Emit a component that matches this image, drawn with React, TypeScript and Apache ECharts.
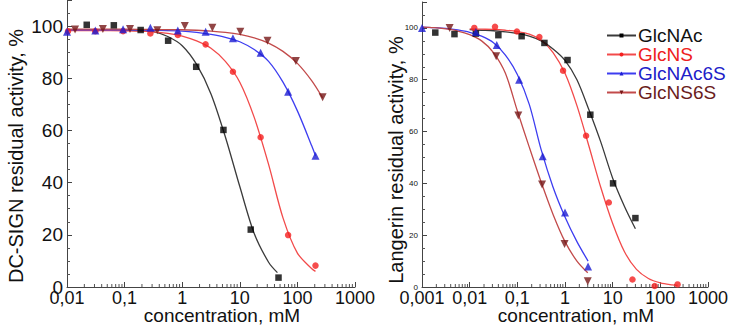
import React, { useEffect, useRef } from "react";
import * as echarts from "echarts";

// ---------- data ----------
const compounds = ["GlcNAc", "GlcNS", "GlcNAc6S", "GlcNS6S"];

// DC-SIGN panel: measured points
const dcBlackX = [0.022, 0.065, 0.19, 0.57, 1.75, 5.2, 15.5, 47];
const dcBlackY = [100.5, 100.3, 98.5, 94.4, 84.4, 60.2, 22, 3.6];
const dcRedX = [0.0104, 0.031, 0.094, 0.28, 0.84, 2.55, 7.6, 23, 69, 206];
const dcRedY = [98, 98, 98, 97.2, 96.6, 93, 82.5, 57.4, 19.9, 8.2];
const dcBlueX = [0.01, 0.031, 0.094, 0.28, 0.84, 2.55, 7.6, 23, 69, 206];
const dcBlueY = [97.8, 98.3, 98.8, 99.4, 98.3, 97.8, 95.3, 89.8, 74.8, 50.3];
const dcDarkX = [0.0138, 0.042, 0.124, 0.37, 1.11, 3.34, 10.2, 30.3, 94, 274];
const dcDarkY = [98.7, 98.9, 98.9, 98.4, 100, 99.4, 97.8, 94.4, 86.6, 72.7];

// DC-SIGN panel: fitted curves
const dcBlackCurveX = [0.01, 0.0178, 0.0316, 0.0562, 0.1, 0.178, 0.316, 0.562, 1, 1.78, 3.16, 5.62, 10, 17.8, 31.6, 45];
const dcBlackCurveY = [98.5, 98.5, 98.5, 98.5, 98.4, 98.3, 97.9, 96, 92.5, 85.3, 74, 57.5, 38.5, 20.5, 9.5, 5.5];
const dcRedCurveX = [0.01, 0.0316, 0.1, 0.178, 0.316, 0.562, 1, 1.78, 3.16, 5.62, 10, 17.8, 31.6, 56.2, 100, 178, 206];
const dcRedCurveY = [98.3, 98.3, 98.2, 98.1, 97.8, 97.2, 96.2, 94.3, 91.5, 86.5, 78.5, 65, 47, 26.5, 13, 7, 6];
const dcBlueCurveX = [0.01, 0.0316, 0.1, 0.316, 1, 1.78, 3.16, 5.62, 10, 17.8, 31.6, 56.2, 100, 178, 206];
const dcBlueCurveY = [98.6, 98.6, 98.6, 98.4, 98.1, 97.6, 96.8, 95.7, 94, 91, 86.5, 78.5, 67.5, 54, 50.3];
const dcDarkCurveX = [0.01, 0.0316, 0.1, 0.316, 1, 1.78, 3.16, 5.62, 10, 17.8, 31.6, 56.2, 100, 178, 274];
const dcDarkCurveY = [98.8, 98.8, 98.8, 98.7, 98.6, 98.4, 98.1, 97.6, 96.8, 95.5, 93.5, 90.3, 85.7, 79, 72.5];

// Langerin panel: measured points
const lgBlackX = [0.0019, 0.0048, 0.0135, 0.04, 0.123, 0.37, 1.13, 3.4, 10.2, 30];
const lgBlackY = [98.2, 97.6, 97.8, 97.2, 96.8, 94.2, 87.6, 66.5, 40, 26.6];
const lgRedX = [0.0125, 0.034, 0.098, 0.29, 0.91, 2.77, 8.3, 26, 76, 230];
const lgRedY = [100, 100.4, 98.6, 96.5, 83.5, 58.4, 32.6, 2.9, 0.4, 1];
const lgBlueX = [0.001, 0.0135, 0.037, 0.109, 0.34, 1.0, 3.05];
const lgBlueY = [100, 98.4, 93.4, 80, 50.5, 28.8, 7.9];
const lgDarkX = [0.0038, 0.036, 0.105, 0.33, 0.98, 3.0];
const lgDarkY = [100, 89.1, 66.2, 39.6, 16.6, 2.2];

// Langerin panel: fitted curves
const lgBlackCurveX = [0.01, 0.0178, 0.0316, 0.0562, 0.1, 0.178, 0.316, 0.562, 1, 1.78, 3.16, 5.62, 10, 17.8, 30];
const lgBlackCurveY = [99.3, 99.1, 98.9, 98.5, 97.9, 96.8, 95, 91.9, 87.5, 80, 68.5, 56, 42, 31, 22.5];
const lgRedCurveX = [0.01, 0.0178, 0.0316, 0.0562, 0.1, 0.178, 0.316, 0.562, 1, 1.78, 3.16, 5.62, 10, 17.8, 31.6, 56.2, 100, 178, 230];
const lgRedCurveY = [99.6, 99.5, 99.4, 99.1, 98.6, 97.6, 95.3, 90.5, 82.5, 70, 54.5, 38.5, 24.5, 13.5, 6.8, 3.3, 1.6, 0.8, 0.6];
const lgBlueCurveX = [0.001, 0.00178, 0.00316, 0.00562, 0.01, 0.0178, 0.0316, 0.0562, 0.1, 0.178, 0.316, 0.562, 1, 1.78, 3.05];
const lgBlueCurveY = [100.3, 100.1, 99.8, 99.2, 98.3, 96.8, 94.3, 89.5, 82, 70.5, 53, 38.5, 27, 17.5, 10];
const lgDarkCurveX = [0.001, 0.00178, 0.00316, 0.00562, 0.01, 0.0178, 0.0316, 0.0562, 0.1, 0.178, 0.316, 0.562, 1, 1.78, 3];
const lgDarkCurveY = [100.3, 100.1, 99.6, 98.8, 97.4, 95, 90.5, 82.5, 68, 54, 40.5, 28, 17.5, 10, 5.5];

// axis ticks
const yTicks = [0, 20, 40, 60, 80, 100];
const minorMultipliers = [2, 3, 4, 5, 6, 7, 8, 9];
const dcDecades = [0.01, 0.1, 1, 10, 100];
const lgDecades = [0.001, 0.01, 0.1, 1, 10, 100];

// ---------- styles ----------
const markerColors = ["#000000", "#f41f1f", "#1c1cd2", "#761616"];
const lineColors = ["#3a3a3a", "#f24a4a", "#3d3df0", "#c24a4a"];
const textColors = ["#111111", "#ee2020", "#2020c8", "#6a1c1c"];
const symbols = ["rect", "circle", "triangle", "triangle"];
const symbolRotates = [0, 0, 0, 180];
const symbolSizes = [6.5, 6.5, 8, 8];
const FONT = "'Liberation Sans', Arial, Helvetica, sans-serif";

const zip = (xs: number[], ys: number[]) => xs.map((x, i) => [x, ys[i]]);

const panels = [
  {
    points: [
      [dcBlackX, dcBlackY],
      [dcRedX, dcRedY],
      [dcBlueX, dcBlueY],
      [dcDarkX, dcDarkY],
    ],
    curves: [
      [dcBlackCurveX, dcBlackCurveY],
      [dcRedCurveX, dcRedCurveY],
      [dcBlueCurveX, dcBlueCurveY],
      [dcDarkCurveX, dcDarkCurveY],
    ],
    decades: dcDecades,
  },
  {
    points: [
      [lgBlackX, lgBlackY],
      [lgRedX, lgRedY],
      [lgBlueX, lgBlueY],
      [lgDarkX, lgDarkY],
    ],
    curves: [
      [lgBlackCurveX, lgBlackCurveY],
      [lgRedCurveX, lgRedCurveY],
      [lgBlueCurveX, lgBlueCurveY],
      [lgDarkCurveX, lgDarkCurveY],
    ],
    decades: lgDecades,
  },
];

const fmtLog = (v: number) => String(Number(v.toPrecision(6))).replace(".", ",");

export default function App() {
  const ref = useRef<HTMLDivElement>(null);

  useEffect(() => {
    if (!ref.current) return;
    const chart = echarts.init(ref.current, null, { renderer: "svg" });

    const series: any[] = [];
    panels.forEach((p, pi) => {
      // minor log ticks on x axis
      const minor: number[][] = [];
      p.decades.forEach((d) => minorMultipliers.forEach((m) => minor.push([Number((d * m).toPrecision(6)), 0])));
      series.push({
        type: "custom",
        xAxisIndex: pi,
        yAxisIndex: pi,
        silent: true,
        data: minor,
        renderItem: (params: any, api: any) => {
          const c = api.coord([api.value(0), 0]);
          return {
            type: "line",
            shape: { x1: c[0], y1: c[1], x2: c[0], y2: c[1] - 3 },
            style: { stroke: "#555", lineWidth: 1 },
          };
        },
        z: 1,
      });
      compounds.forEach((name, i) => {
        const [cx, cy] = p.curves[i];
        series.push({
          type: "line",
          name,
          xAxisIndex: pi,
          yAxisIndex: pi,
          data: zip(cx, cy),
          smooth: 0.3,
          showSymbol: false,
          symbol: symbols[i],
          symbolRotate: symbolRotates[i],
          symbolSize: 5,
          lineStyle: { color: lineColors[i], width: 1.3 },
          itemStyle: { color: markerColors[i] },
          z: 2,
        });
      });
      compounds.forEach((name, i) => {
        const [px, py] = p.points[i];
        series.push({
          type: "scatter",
          name,
          xAxisIndex: pi,
          yAxisIndex: pi,
          data: zip(px, py),
          symbol: symbols[i],
          symbolRotate: symbolRotates[i],
          symbolSize: symbolSizes[i],
          itemStyle: { color: markerColors[i] },
          z: 3,
        });
      });
    });

    const xAxisCommon = {
      type: "log",
      logBase: 10,
      max: 1000,
      axisLine: { show: true, lineStyle: { color: "#444", width: 1 } },
      axisTick: { show: true, inside: true, length: 5, lineStyle: { color: "#444" } },
      splitLine: { show: false },
      axisLabel: {
        fontSize: 18,
        lineHeight: 16,
        fontFamily: FONT,
        color: "#111",
        margin: 3,
        formatter: (v: number) => fmtLog(v),
      },
    };
    const yAxisCommon = (fontSize: number) => ({
      type: "value",
      min: 0,
      max: 110,
      interval: 20,
      axisLine: { show: true, lineStyle: { color: "#444", width: 1 } },
      axisTick: { show: true, inside: true, length: 5, lineStyle: { color: "#444" } },
      minorTick: { show: true, splitNumber: 4, length: 3, lineStyle: { color: "#555" } },
      splitLine: { show: false },
      minorSplitLine: { show: false },
      axisLabel: {
        fontSize,
        fontFamily: FONT,
        color: "#111",
        margin: 4,
        formatter: (v: number) => (yTicks.indexOf(v) >= 0 ? String(v) : ""),
      },
    });

    const nameText = (text: string, x: number, y: number, size: number, rotate: boolean) => ({
      type: "text",
      x,
      y,
      rotation: rotate ? Math.PI / 2 : 0,
      style: {
        text,
        font: `${size}px ${FONT}`,
        lineHeight: 17,
        fill: "#111",
        align: "center",
        verticalAlign: "middle",
      },
    });

    chart.setOption({
      animation: false,
      backgroundColor: "#ffffff",
      grid: [
        { left: 67, top: 0, width: 288, height: 287 },
        { left: 422, top: 2, width: 286, height: 285 },
      ],
      xAxis: [
        { ...xAxisCommon, gridIndex: 0, min: 0.01 },
        { ...xAxisCommon, gridIndex: 1, min: 0.001 },
      ],
      yAxis: [
        { ...yAxisCommon(19), gridIndex: 0 },
        { ...yAxisCommon(8), gridIndex: 1 },
      ],
      legend: {
        orient: "vertical",
        left: 606,
        top: 26,
        itemWidth: 29,
        itemHeight: 5,
        itemGap: 0,
        padding: 0,
        selectedMode: false,
        textStyle: { fontSize: 19, fontFamily: FONT, lineHeight: 19, padding: [0, 0, 0, -3] },
        data: compounds.map((name, i) => ({ name, textStyle: { color: textColors[i] } })),
      },
      graphic: [
        nameText("DC-SIGN residual activity, %", 16, 156, 20, true),
        nameText("Langerin residual activity, %", 396, 160, 20, true),
        nameText("concentration, mM", 222, 315, 19, false),
        nameText("concentration, mM", 576, 315, 19, false),
      ],
      series,
    });

    return () => chart.dispose();
  }, []);

  return (
    <div
      ref={ref}
      style={{ position: "absolute", left: 0, top: 0, width: 740, height: 335, background: "#fff" }}
    />
  );
}
